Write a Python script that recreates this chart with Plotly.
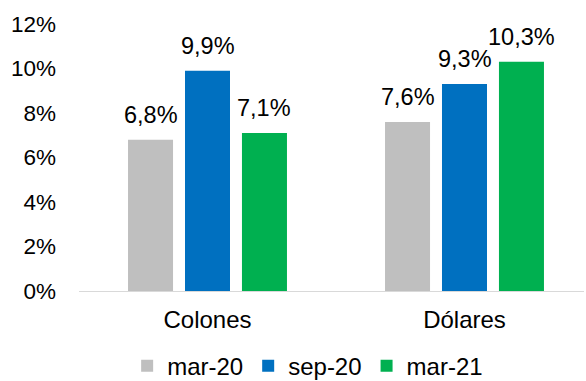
import plotly.graph_objects as go

categories = ["Colones", "Dólares"]
series_names = ["mar-20", "sep-20", "mar-21"]
mar20 = [6.8, 7.6]
sep20 = [9.9, 9.3]
mar21 = [7.1, 10.3]
colors = ["#bfbfbf", "#0070c0", "#00b050"]
y_ticks = [0, 2, 4, 6, 8, 10, 12]

family = "Liberation Sans, Arial, sans-serif"
def f(size):
    return dict(family=family, size=size, color="#000000")

bargap, bargroupgap = 0.335, 0.21
x_range = [-0.5, 1.465]
margin = dict(l=79, r=2, t=24, b=90, autoexpand=False)
width, height = 586, 381

fig = go.Figure()
all_series = [mar20, sep20, mar21]
for name, vals, col in zip(series_names, all_series, colors):
    fig.add_trace(go.Bar(
        x=categories, y=vals, name=name, marker=dict(color=col, line=dict(width=0)),
    ))

# value labels above each bar, shifted to the centre of its slot in the group
px_per_unit = (width - margin["l"] - margin["r"]) / (x_range[1] - x_range[0])
slot = (1 - bargap) / len(all_series)
for i, vals in enumerate(all_series):
    offset = (i - (len(all_series) - 1) / 2) * slot * px_per_unit
    for cat, v in zip(categories, vals):
        fig.add_annotation(
            x=cat, y=v, xref="x", yref="y", xshift=offset, yshift=10,
            text=f"{v:.1f}%".replace(".", ","), showarrow=False,
            yanchor="bottom", font=f(23.5),
        )

fig.update_layout(
    width=width, height=height,
    margin=margin,
    paper_bgcolor="white", plot_bgcolor="white",
    font=f(22.5),
    barmode="group", bargap=bargap, bargroupgap=bargroupgap,
    showlegend=True,
    legend=dict(orientation="h", xref="container", x=0.525, xanchor="center",
                yref="paper", y=-0.281, yanchor="middle",
                font=f(24), itemwidth=30, tracegroupgap=0),
    xaxis=dict(range=x_range, showline=True, linecolor="#d9d9d9", linewidth=1,
               ticks="", tickfont=f(24), ticklabelstandoff=7, showgrid=False,
               tickangle=0),
    yaxis=dict(range=[0, 12], tickvals=y_ticks, ticktext=[f"{t}%" for t in y_ticks],
               showgrid=False, zeroline=False, showline=False, tickfont=f(22.5),
               ticklabelstandoff=22),
)

fig.write_html("out.html")
